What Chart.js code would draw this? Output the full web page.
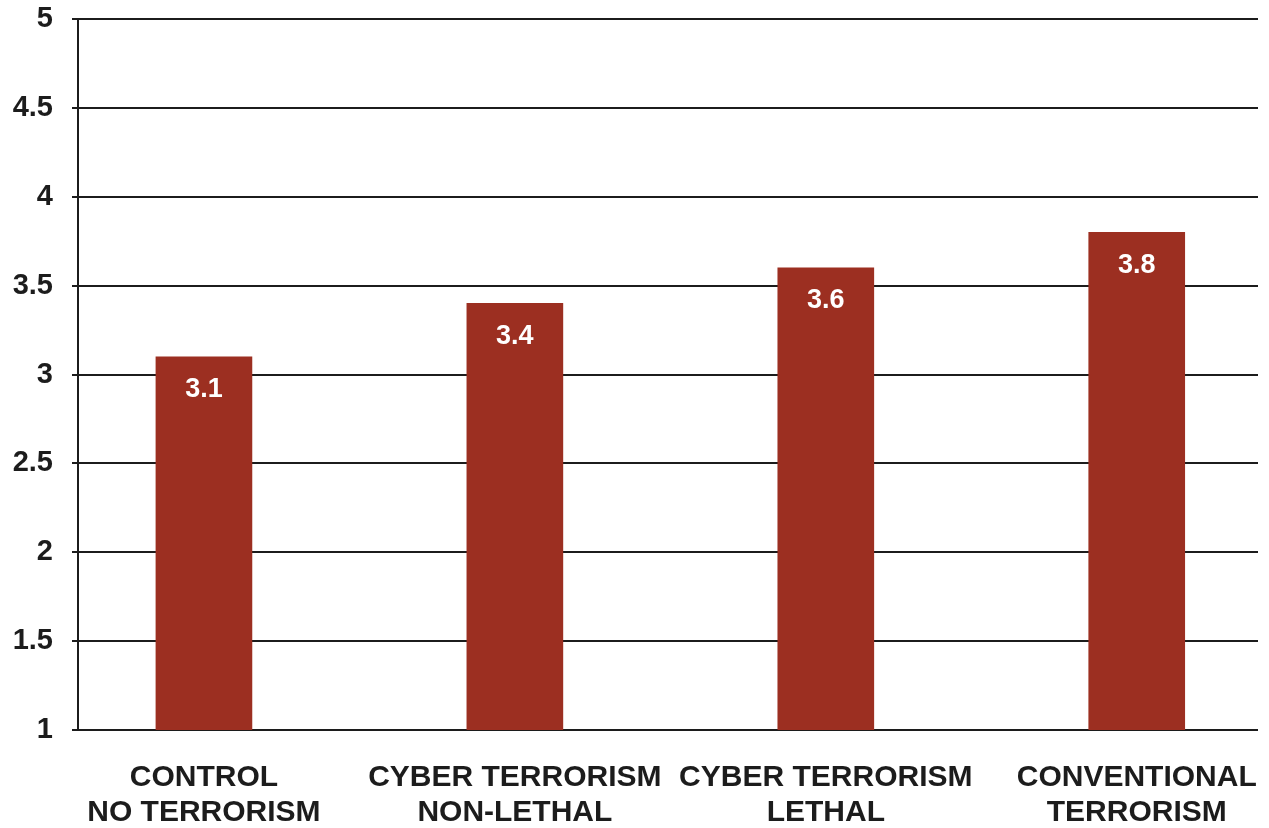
<!DOCTYPE html>
<html>
<head>
<meta charset="utf-8">
<script src="https://cdn.jsdelivr.net/npm/chart.js@4.4.0/dist/chart.umd.min.js"></script>
<style>
  html, body { margin: 0; padding: 0; background: #fff; }
  #wrap { width: 1269px; height: 828px; }
</style>
</head>
<body>
<div id="wrap"><canvas id="chart"></canvas></div>
<script>
//-------------------------------------------------------------
// Data
//-------------------------------------------------------------
const categories = [
  ["CONTROL", "NO TERRORISM"],
  ["CYBER TERRORISM", "NON-LETHAL"],
  ["CYBER TERRORISM", "LETHAL"],
  ["CONVENTIONAL", "TERRORISM"],
];
const values = [3.1, 3.4, 3.6, 3.8];
const yTicks = [1, 1.5, 2, 2.5, 3, 3.5, 4, 4.5, 5];

const BAR_COLOR = "#9c2f21";
const INK = "#1c1c1c";
const FONT = "'Liberation Sans', Arial, sans-serif";

//-------------------------------------------------------------
// Value labels inside bars
//-------------------------------------------------------------
const valueLabels = {
  id: "valueLabels",
  afterDatasetsDraw(chart) {
    const ctx = chart.ctx;
    const meta = chart.getDatasetMeta(0);
    ctx.save();
    ctx.fillStyle = "#fff";
    ctx.font = "bold 27px " + FONT;
    ctx.textAlign = "center";
    ctx.textBaseline = "middle";
    meta.data.forEach((bar, i) => {
      ctx.fillText(values[i].toFixed(1), bar.x, bar.y + 33);
    });
    ctx.restore();
  },
};

//-------------------------------------------------------------
// Chart
//-------------------------------------------------------------
new Chart(document.getElementById("chart"), {
  type: "bar",
  data: {
    datasets: [
      {
        data: values.map((v, i) => ({ x: i, y: v })),
        backgroundColor: BAR_COLOR,
        barThickness: 96,
      },
    ],
  },
  options: {
    responsive: true,
    maintainAspectRatio: false,
    animation: false,
    layout: { padding: { top: 0, right: 11, left: 0, bottom: 0 } },
    plugins: { legend: { display: false }, tooltip: { enabled: false } },
    scales: {
      x: {
        type: "linear",
        offset: false,
        min: -0.405,
        max: 3.39,
        afterBuildTicks: (s) => {
          s.ticks = categories.map((_, i) => ({ value: i }));
        },
        afterFit: (s) => {
          s.height = 98;
          s.paddingLeft = 0;
          s.paddingRight = 0;
        },
        grid: { display: false, drawTicks: false },
        border: { display: false },
        ticks: {
          padding: 30,
          maxRotation: 0,
          autoSkip: false,
          color: INK,
          font: { family: FONT, size: 30, weight: "bold", lineHeight: 1.18 },
          callback: (v) => categories[v] || "",
        },
      },
      y: {
        min: 1,
        max: 5,
        afterBuildTicks: (s) => {
          s.ticks = yTicks.map((v) => ({ value: v }));
        },
        afterFit: (s) => {
          s.width = 78;
          s.paddingTop = 19;
          s.paddingBottom = 0;
        },
        grid: { color: INK, lineWidth: 2, tickLength: 6 },
        border: { display: true, color: INK, width: 2 },
        ticks: {
          padding: 19,
          color: INK,
          font: { family: FONT, size: 29, weight: "bold" },
          callback: (v) => String(v),
        },
      },
    },
  },
  plugins: [valueLabels],
});
</script>
</body>
</html>
